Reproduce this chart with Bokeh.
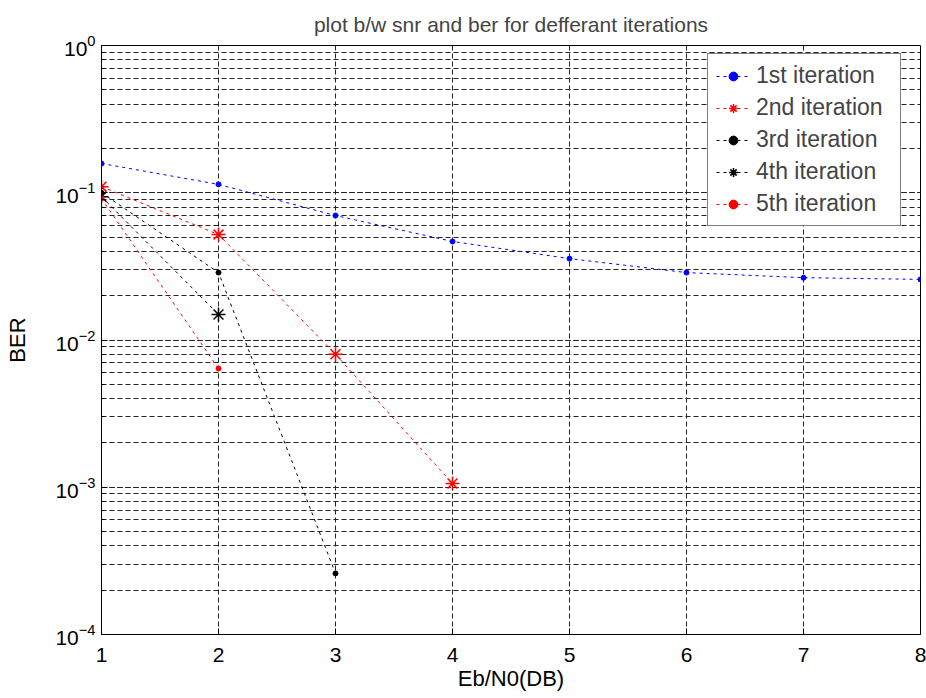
from bokeh.plotting import figure
from bokeh.models import Legend, LegendItem, FixedTicker, LogTicker
from bokeh.embed import file_html
from bokeh.resources import INLINE

snr1 = [1, 2, 3, 4, 5, 6, 7, 8]
ber1 = [0.158, 0.114, 0.070, 0.0467, 0.0357, 0.0287, 0.0265, 0.0258]
snr2 = [1, 2, 3, 4]
ber2 = [0.110, 0.052, 0.0080, 0.00106]
snr3 = [1, 2, 3]
ber3 = [0.100, 0.0287, 0.00026]
snr4 = [1, 2]
ber4 = [0.094, 0.0149]
snr5 = [1, 2]
ber5 = [0.0914, 0.0064]

labels = ["1st iteration", "2nd iteration", "3rd iteration", "4th iteration", "5th iteration"]
x_ticks = [1, 2, 3, 4, 5, 6, 7, 8]

FONT = "Liberation Sans"

p = figure(width=926, height=698, output_backend="svg", toolbar_location=None,
           y_axis_type="log", x_range=(1, 8), y_range=(1e-4, 1),
           title="plot b/w snr and ber for defferant iterations",
           min_border_left=101, min_border_right=6, min_border_top=43, min_border_bottom=64)

p.title.align = "center"
p.title.text_font = FONT
p.title.text_font_size = "21px"
p.title.text_font_style = "normal"
p.title.standoff = 20
p.title.text_line_height = 1.0

p.background_fill_color = "white"
p.border_fill_color = "white"
p.outline_line_color = "black"
p.outline_line_width = 1

p.xaxis.ticker = FixedTicker(ticks=x_ticks)
p.yaxis.ticker = LogTicker(num_minor_ticks=10)
for ax in [p.xaxis[0], p.yaxis[0]]:
    ax.major_tick_in = 6
    ax.major_tick_out = 0
    ax.minor_tick_in = 3
    ax.minor_tick_out = 0
    ax.axis_line_color = "black"
    ax.major_tick_line_color = "black"
    ax.minor_tick_line_color = "black"
    ax.major_label_text_font = FONT
    ax.major_label_text_font_size = "21px"
    ax.major_label_text_color = "black"
    ax.axis_label_text_font = FONT
    ax.axis_label_text_font_size = "22px"
    ax.axis_label_text_font_style = "normal"
    ax.axis_label_text_color = "black"
p.xaxis.minor_tick_line_color = None
p.xaxis.axis_label = "Eb/N0(DB)"
p.yaxis.axis_label = "BER"
p.xaxis.major_label_standoff = 13
p.yaxis.major_label_standoff = 6
p.xaxis.axis_label_standoff = 1
p.yaxis.axis_label_standoff = 22

for g in [p.xgrid[0], p.ygrid[0]]:
    g.grid_line_color = "#222222"
    g.grid_line_dash = "5 3"
    g.grid_line_width = 1
p.ygrid.minor_grid_line_color = "#222222"
p.ygrid.minor_grid_line_dash = "5 3"
p.ygrid.minor_grid_line_width = 1

dash = "3 4"
r1l = p.line(snr1, ber1, line_color="blue", line_dash=dash, line_width=1)
r1m = p.scatter(snr1, ber1, marker="circle", size=5, color="blue")
r2l = p.line(snr2, ber2, line_color="red", line_dash=dash, line_width=1)
r2m = p.scatter(snr2, ber2, marker="asterisk", size=14, line_color="red", line_width=1.5)
r3l = p.line(snr3, ber3, line_color="black", line_dash=dash, line_width=1)
r3m = p.scatter(snr3, ber3, marker="circle", size=5, color="black")
r4l = p.line(snr4, ber4, line_color="black", line_dash=dash, line_width=1)
r4m = p.scatter(snr4, ber4, marker="asterisk", size=14, line_color="black", line_width=1.5)
r5l = p.line(snr5, ber5, line_color="red", line_dash=dash, line_width=1)
r5m = p.scatter(snr5, ber5, marker="circle", size=5, color="red")

items = [LegendItem(label=labels[0], renderers=[r1l, r1m]),
         LegendItem(label=labels[1], renderers=[r2l, r2m]),
         LegendItem(label=labels[2], renderers=[r3l, r3m]),
         LegendItem(label=labels[3], renderers=[r4l, r4m]),
         LegendItem(label=labels[4], renderers=[r5l, r5m])]
legend = Legend(items=items, location=(606, 408), glyph_width=34, glyph_height=22,
                label_height=22, label_width=136, spacing=5, padding=8, label_standoff=6,
                label_text_font=FONT, label_text_font_size="23px",
                border_line_color="black", border_line_width=1,
                background_fill_color="white", background_fill_alpha=1.0, margin=0)
p.add_layout(legend, "center")

open("out.html", "w").write(file_html(p, INLINE))
